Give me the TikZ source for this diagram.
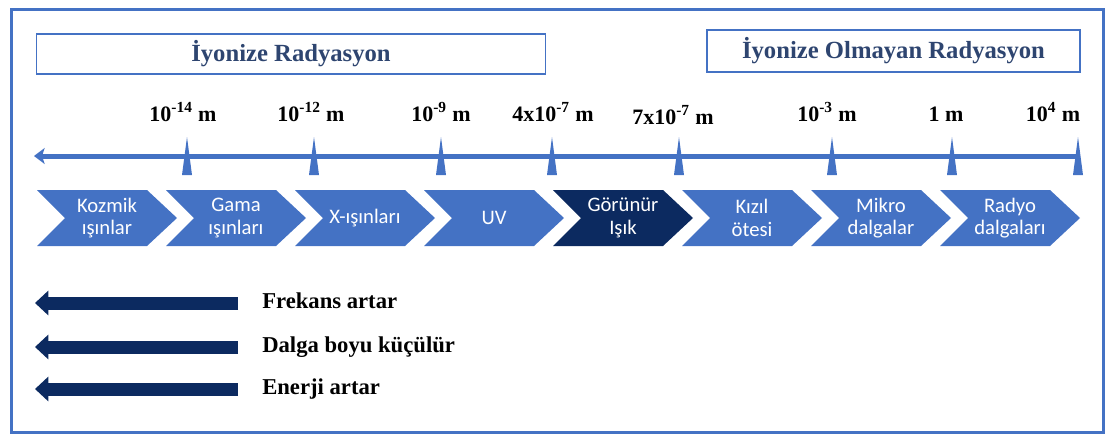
\documentclass[tikz,border=0pt]{standalone}
\usepackage{fontspec}
\setmainfont{Liberation Serif}
\newfontfamily\chevfont{Carlito}
\usetikzlibrary{arrows.meta}
\definecolor{midblue}{HTML}{4472C4}
\definecolor{navy}{HTML}{0C2A60}
\definecolor{titleblue}{HTML}{2E4570}

\begin{document}
\begin{tikzpicture}[x=0.75pt,y=-0.75pt,
    titlebox/.style={draw=midblue,line width=1.1pt,text=titleblue,
      font=\fontsize{18.5}{22}\selectfont\bfseries},
    wavelbl/.style={font=\fontsize{16.5}{20}\selectfont\bfseries,inner sep=0pt,
      anchor=base},
    chevtxt/.style={text=white,align=center,
      font=\chevfont\fontsize{15.5}{17}\selectfont},
    bigarrow/.style={navy,line width=9.75pt,-{Triangle[length=10pt,width=18pt]}},
    sidelbl/.style={font=\fontsize{17}{20}\selectfont\bfseries,anchor=west,
      inner sep=0pt,text height=11.5pt,text depth=3.5pt}]
  \useasboundingbox (0,0) rectangle (1108,436);
  % outer frame
  \draw[midblue,line width=2.25pt] (11,9) rectangle (1103,432);
  % headings
  \node[titlebox,minimum width=382pt,minimum height=30pt] (ionbox) at (291,54)
    {İyonize Radyasyon};
  \node[titlebox,minimum width=280pt,minimum height=31.5pt] (nonionbox) at (893.5,51)
    {İyonize Olmayan Radyasyon};
  % wavelength axis
  \coordinate (axisR) at (1080,156);
  \coordinate (axisL) at (34,156);
  \draw[midblue,line width=3.75pt,-{Stealth[length=8pt,width=12pt,inset=2pt]}]
    (axisR) -- (axisL);
  \foreach \x in {187,314,441,552,679,832,952,1078}
    \fill[midblue] (\x,137) -- (\x+5,175) -- (\x-5,175) -- cycle;
  % wavelength labels
  \foreach \x/\y/\t [count=\i] in {183/121/10\textsuperscript{-14} m,
      311/121/10\textsuperscript{-12} m, 441/121/10\textsuperscript{-9} m,
      553/121/4x10\textsuperscript{-7} m, 673/124/7x10\textsuperscript{-7} m,
      827/121/10\textsuperscript{-3} m, 946/121/1 m,
      1053/121/10\textsuperscript{4} m}
    \node[wavelbl] (w\i) at (\x,\y) {\t};
  % spectrum chevrons
  \foreach \col/\t [count=\i from 0] in {midblue/Kozmik\\ışınlar,
      midblue/Gama\\ışınları, midblue/X-ışınları, midblue/UV,
      navy/Görünür\\Işık, midblue/Kızıl\\ötesi, midblue/Mikro\\dalgalar,
      midblue/Radyo\\dalgaları}
  {
    \pgfmathsetmacro\L{37+129*\i}
    \fill[\col] (\L,190) -- (\L+110,190) -- (\L+140,218) -- (\L+110,246)
      -- (\L,246) -- (\L+28,218) -- cycle;
    \node[chevtxt] (c\i) at (\L+70,218) {\t};
  }
  % direction arrows
  \node[sidelbl] (freq) at (262,303) {Frekans artar};
  \node[sidelbl] (dalga) at (262,347) {Dalga boyu küçülür};
  \node[sidelbl] (enerji) at (262,389) {Enerji artar};
  \coordinate (freqend) at (35,303);
  \coordinate (dalgaend) at (35,347);
  \coordinate (enerjiend) at (35,389);
  \draw[bigarrow] ([xshift=-18pt]freq.west) -- (freqend);
  \draw[bigarrow] ([xshift=-18pt]dalga.west) -- (dalgaend);
  \draw[bigarrow] ([xshift=-18pt]enerji.west) -- (enerjiend);
\end{tikzpicture}
\end{document}
